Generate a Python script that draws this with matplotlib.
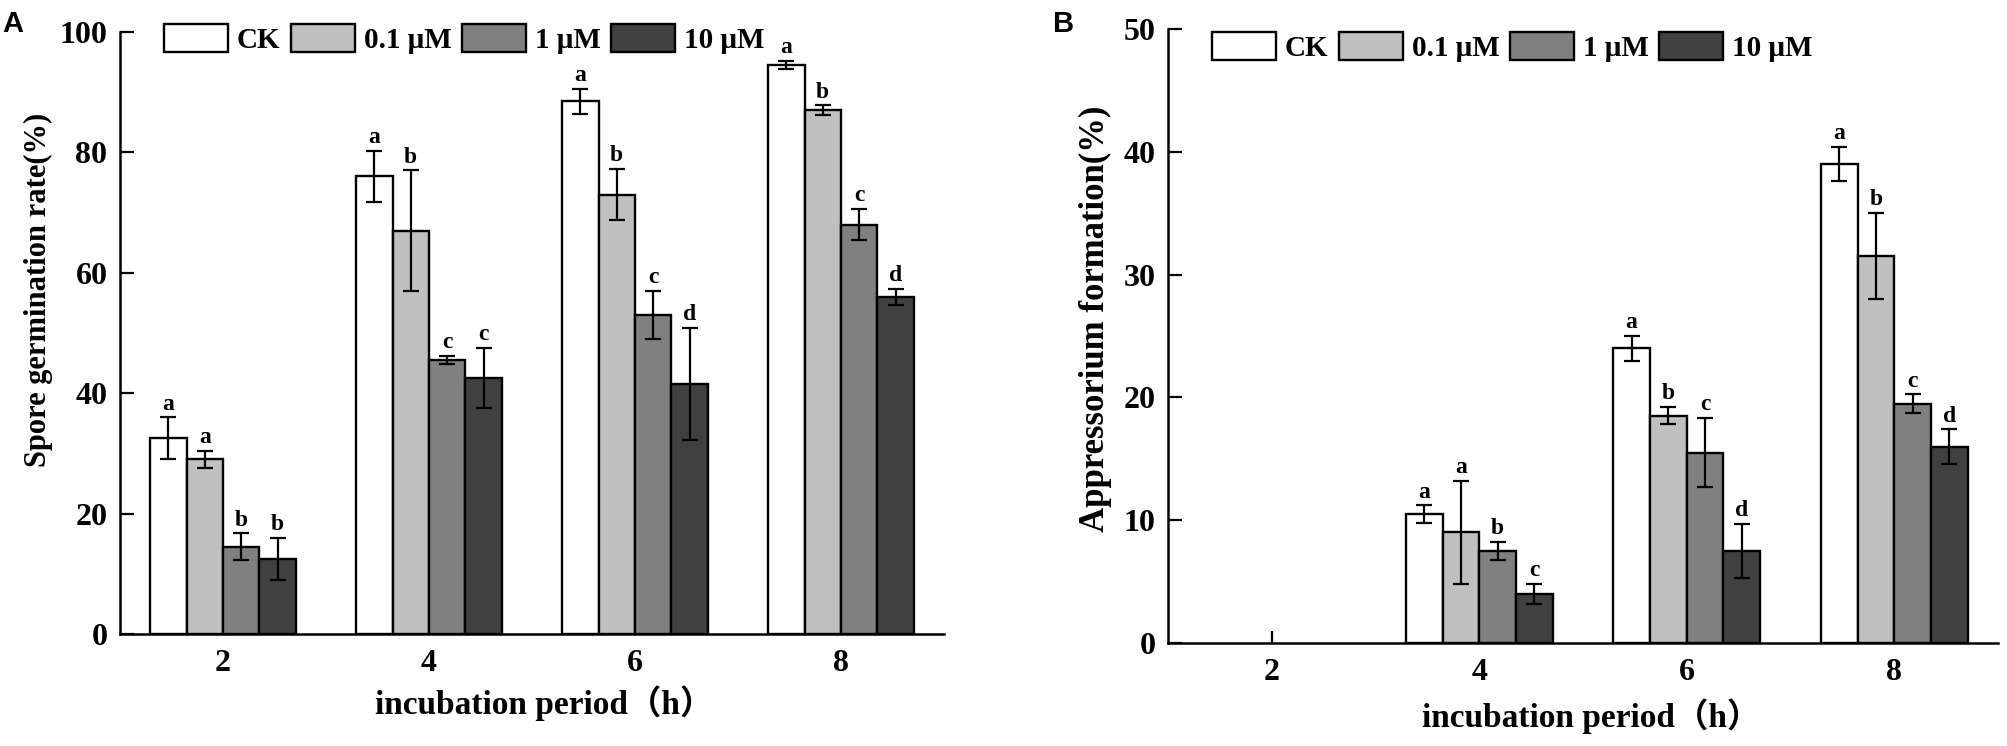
import numpy as np
import matplotlib
matplotlib.use('Agg')
import matplotlib.pyplot as plt

# incubation time groups and treatments
hours = ['2', '4', '6', '8']
treatments = ['CK', '0.1 μM', '1 μM', '10 μM']
colors = ['#ffffff', '#c0c0c0', '#808080', '#404040']

# Panel A: spore germination rate (%)
germ_ck = [32.5, 76.0, 88.5, 94.5]
germ_01 = [29.0, 67.0, 73.0, 87.0]
germ_1 = [14.5, 45.5, 53.0, 68.0]
germ_10 = [12.5, 42.5, 41.5, 56.0]
germ_err_ck = [3.5, 4.3, 2.1, 0.7]
germ_err_01 = [1.4, 10.0, 4.3, 0.8]
germ_err_1 = [2.2, 0.7, 4.0, 2.6]
germ_err_10 = [3.5, 5.0, 9.3, 1.3]
germ_letters = [['a', 'a', 'b', 'b'],
                ['a', 'b', 'c', 'c'],
                ['a', 'b', 'c', 'd'],
                ['a', 'b', 'c', 'd']]

# Panel B: appressorium formation (%)
app_ck = [0, 10.5, 24.0, 39.0]
app_01 = [0, 9.0, 18.5, 31.5]
app_1 = [0, 7.5, 15.5, 19.5]
app_10 = [0, 4.0, 7.5, 16.0]
app_err_ck = [0, 0.7, 1.0, 1.4]
app_err_01 = [0, 4.2, 0.7, 3.5]
app_err_1 = [0, 0.75, 2.8, 0.75]
app_err_10 = [0, 0.8, 2.2, 1.4]
app_letters = [['', '', '', ''],
               ['a', 'a', 'b', 'c'],
               ['a', 'b', 'c', 'd'],
               ['a', 'b', 'c', 'd']]

serif = ['Liberation Serif', 'Noto Sans CJK SC', 'DejaVu Serif']
plt.rcParams['font.family'] = serif
plt.rcParams['font.weight'] = 'bold'

fig = plt.figure(figsize=(20.08, 7.46), dpi=100)
axA = fig.add_axes([120 / 2008, 112 / 746, 824 / 2008, 602 / 746])
axB = fig.add_axes([1168 / 2008, 103 / 746, 830 / 2008, 614 / 746])

width = 0.177
x = np.arange(len(hours))


def draw_panel(ax, series, errors, letters, ymax, yticks, ylabel, ylabel_size):
    for i, (vals, errs) in enumerate(zip(series, errors)):
        vals = np.array(vals, dtype=float)
        errs = np.array(errs, dtype=float)
        pos = x + (i - 1.5) * width
        keep = vals > 0  # no bars at 2 h in panel B
        ax.bar(pos[keep], vals[keep], width, color=colors[i], edgecolor='black',
               linewidth=1.7, label=treatments[i], zorder=2)
        ax.errorbar(pos[keep], vals[keep], yerr=errs[keep], fmt='none', ecolor='black',
                    elinewidth=1.6, capsize=6, capthick=1.6, zorder=3)
        for j in np.where(keep)[0]:
            ax.annotate(letters[j][i], (pos[j], vals[j] + errs[j]), xytext=(0, 2),
                        textcoords='offset points', ha='center', va='bottom',
                        fontsize=17, fontweight='bold')
    ax.set_xlim(-0.5, 3.5)
    ax.set_ylim(0, ymax)
    ax.set_yticks(yticks)
    ax.set_xticks(x)
    ax.set_xticklabels(hours)
    ax.spines['top'].set_visible(False)
    ax.spines['right'].set_visible(False)
    ax.spines['left'].set_linewidth(1.8)
    ax.spines['bottom'].set_linewidth(1.8)
    ax.tick_params(axis='y', direction='in', length=10, width=1.6, pad=9, labelsize=23)
    ax.tick_params(axis='x', direction='in', length=9, width=1.6, pad=11, labelsize=23)
    ax.set_xlabel('incubation period（h）', fontsize=24, fontweight='bold')
    ax.set_ylabel(ylabel, fontsize=ylabel_size, fontweight='bold')
    for lab in ax.get_xticklabels() + ax.get_yticklabels():
        lab.set_fontweight('bold')


draw_panel(axA, [germ_ck, germ_01, germ_1, germ_10],
           [germ_err_ck, germ_err_01, germ_err_1, germ_err_10],
           germ_letters, 100, [0, 20, 40, 60, 80, 100], 'Spore germination rate(%)', 22)
draw_panel(axB, [app_ck, app_01, app_1, app_10],
           [app_err_ck, app_err_01, app_err_1, app_err_10],
           app_letters, 50, [0, 10, 20, 30, 40, 50], 'Appressorium formation(%)', 25)

axA.xaxis.set_label_coords(0.515, -0.085)
axB.xaxis.set_label_coords(0.51, -0.09)
axA.yaxis.set_label_coords(-0.081, 0.571)
axB.yaxis.set_label_coords(-0.067, 0.528)

for ax, xa, ya in [(axA, 164, 24), (axB, 1212, 32)]:
    handles, labels = ax.get_legend_handles_labels()
    fig.legend(handles, labels, loc='upper left', bbox_to_anchor=(xa / 2008, 1 - ya / 746),
               ncol=4, frameon=False, handlelength=2.2, handleheight=1.1,
               handletextpad=0.3, columnspacing=0.35, borderpad=0, borderaxespad=0,
               prop={'weight': 'bold', 'size': 21})

fig.text(2 / 2008, 1 - 10 / 746, 'A', fontsize=21, fontweight='bold', family='Liberation Sans',
         ha='left', va='top')
fig.text(1053 / 2008, 1 - 10 / 746, 'B', fontsize=21, fontweight='bold', family='Liberation Sans',
         ha='left', va='top')

fig.savefig('out.png', dpi=100)
